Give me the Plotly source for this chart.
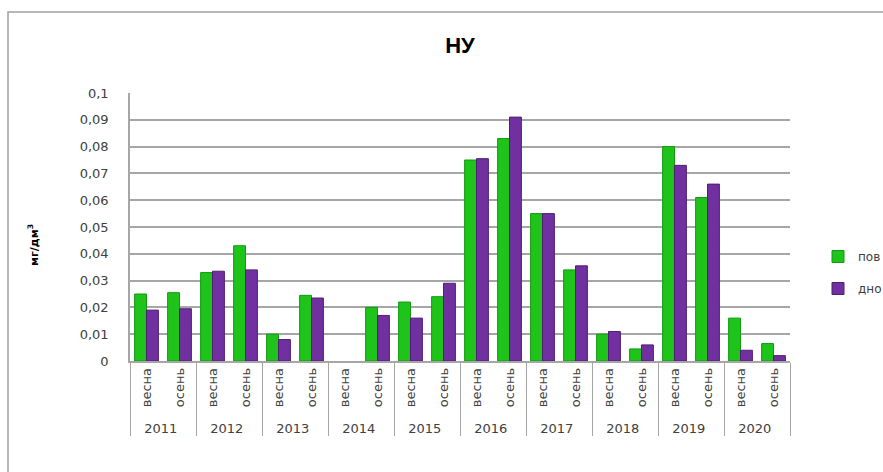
import plotly.graph_objects as go

years = ["2011", "2012", "2013", "2014", "2015", "2016", "2017", "2018", "2019", "2020"]
seasons = ["весна", "осень"]
pov = [0.025, 0.0255, 0.033, 0.043, 0.010, 0.0245, 0.0, 0.020, 0.022, 0.024,
       0.075, 0.083, 0.055, 0.034, 0.010, 0.0045, 0.080, 0.061, 0.016, 0.0065]
dno = [0.019, 0.0195, 0.0335, 0.034, 0.008, 0.0235, 0.0, 0.017, 0.016, 0.029,
       0.0755, 0.091, 0.055, 0.0355, 0.011, 0.006, 0.073, 0.066, 0.004, 0.002]
tick_vals = [0, 0.01, 0.02, 0.03, 0.04, 0.05, 0.06, 0.07, 0.08, 0.09, 0.1]
tick_text = ["0", "0,01", "0,02", "0,03", "0,04", "0,05", "0,06", "0,07", "0,08", "0,09", "0,1"]

x_outer = [y for y in years for s in seasons]
x_inner = [s for y in years for s in seasons]

fig = go.Figure()
fig.add_trace(go.Bar(x=[x_outer, x_inner], y=pov, name="пов", legendgroup="a",
                     marker=dict(color="#1ec41a",
                                 line=dict(color="#139a10", width=[0 if v == 0 else 1 for v in pov]))))
fig.add_trace(go.Bar(x=[x_outer, x_inner], y=dno, name="дно", legendgroup="b",
                     marker=dict(color="#7030a0",
                                 line=dict(color="#4e1f72", width=[0 if v == 0 else 1 for v in dno]))))

L, R, T, B = 130, 93, 93, 111
W, H = 883, 472
pw, ph = W - L - R, H - T - B

fig.update_layout(
    width=W, height=H,
    margin=dict(l=L, r=R, t=T, b=B, autoexpand=False),
    paper_bgcolor="white", plot_bgcolor="white",
    barmode="group", bargap=0.28, bargroupgap=0.0,
    title=dict(text="<b>НУ</b>", x=(L + pw / 2) / W, xanchor="center", y=1 - 45 / H, yanchor="middle",
               font=dict(family="Liberation Sans, Arial", size=22, color="#000000")),
    legend=dict(x=(818 - L) / pw, y=(H - B - 242) / ph, xanchor="left", yanchor="top",
                font=dict(family="DejaVu Sans", size=12, color="#404040"),
                tracegroupgap=13, itemwidth=30, bgcolor="rgba(0,0,0,0)"),
    font=dict(family="DejaVu Sans", color="#404040"),
    showlegend=True,
)
fig.update_xaxes(
    type="multicategory", tickangle=-90, showgrid=False, showline=True,
    linecolor="#a6a6a6", linewidth=1.5, showdividers=True, dividercolor="#a6a6a6",
    dividerwidth=1, ticks="outside", ticklen=9, tickcolor="rgba(0,0,0,0)",
    tickfont=dict(family="DejaVu Sans", size=13, color="#404040"),
    automargin=False,
)
fig.update_yaxes(
    range=[0, 0.1], tickvals=tick_vals, ticktext=tick_text, showgrid=True,
    gridcolor="#a6a6a6", gridwidth=1.5, showline=True, linecolor="#a6a6a6", linewidth=1.5,
    tickfont=dict(family="DejaVu Sans", size=13, color="#404040"), ticks="", ticklabelstandoff=17,
    zeroline=False, automargin=False,
)
fig.add_annotation(text="<b>мг/дм<sup>3</sup></b>", xref="paper", yref="paper",
                   x=(33 - L) / pw, y=(H - B - 245) / ph, textangle=-90, showarrow=False,
                   xanchor="center", yanchor="middle",
                   font=dict(family="DejaVu Sans", size=11, color="#000000"))
fig.add_shape(type="rect", xref="paper", yref="paper",
              x0=(8 - L) / pw, x1=(W + 20 - L) / pw,
              y0=(H - B - (H + 20)) / ph, y1=(H - B - 12) / ph,
              line=dict(color="#a0a0a0", width=1.5), fillcolor="rgba(0,0,0,0)", layer="below")
fig.write_html("out.html", config={"displayModeBar": False},
               post_script="document.body.style.margin='0';")
